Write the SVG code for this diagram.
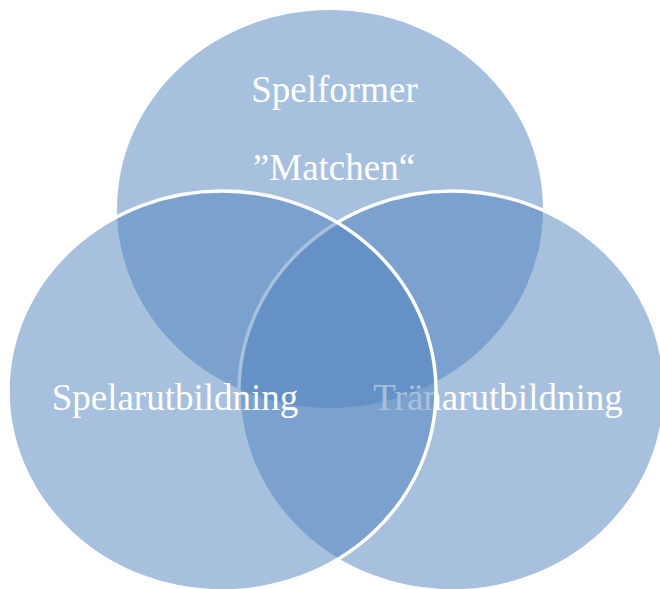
<svg xmlns="http://www.w3.org/2000/svg" width="660" height="589" viewBox="0 0 660 589">
  <style>
    .c { fill: #4f81bd; fill-opacity: 0.5; }
    .s { stroke: #ffffff; stroke-width: 3.5; }
    .t { font-family: "Liberation Serif", "Times New Roman", serif; font-size: 37px; fill: #ffffff; text-anchor: middle; }
  </style>
  <rect width="660" height="589" fill="#ffffff"/>
  <g id="node-spelformer">
    <ellipse class="c" cx="330" cy="209" rx="213" ry="199"/>
    <text class="t" x="334.5" y="102">Spelformer</text>
    <text class="t" x="334" y="180">”Matchen“</text>
  </g>
  <g id="node-tranarutbildning">
    <ellipse class="c s" cx="452" cy="391" rx="213" ry="200"/>
    <text class="t" x="498" y="410">Tränarutbildning</text>
  </g>
  <g id="node-spelarutbildning">
    <ellipse class="c s" cx="222" cy="391" rx="214" ry="200"/>
    <text class="t" x="175" y="410">Spelarutbildning</text>
  </g>
</svg>
